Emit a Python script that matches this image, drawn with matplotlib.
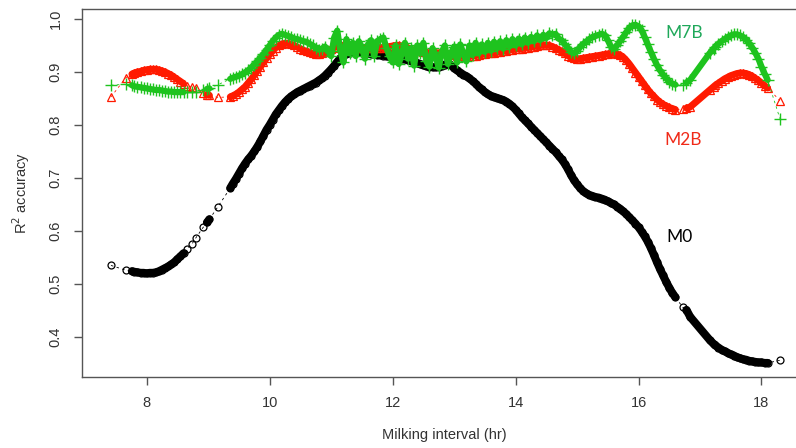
import numpy as np
import matplotlib.pyplot as plt

# milking interval (hr) - same x for the three models
x_hr = [7.42, 7.66, 7.76, 7.80, 7.85, 7.90, 7.95, 8.00, 8.05, 8.10,
        8.15, 8.20, 8.25, 8.30, 8.35, 8.40, 8.45, 8.50, 8.55, 8.60,
        8.66, 8.74, 8.80, 8.92, 8.98, 9.02, 9.16, 9.36,
        9.40, 9.45, 9.50, 9.55, 9.60, 9.65, 9.70, 9.75, 9.80, 9.85,
        9.90, 9.95, 10.00, 10.05, 10.10, 10.15, 10.20, 10.25, 10.30, 10.35,
        10.40, 10.45, 10.50, 10.55, 10.60, 10.65, 10.70, 10.75, 10.80, 10.85,
        10.90, 10.95, 11.00, 11.05, 11.10, 11.15, 11.20, 11.25, 11.30, 11.35,
        11.40, 11.45, 11.50, 11.55, 11.60, 11.65, 11.70, 11.75, 11.80, 11.85,
        11.90, 11.95, 12.00, 12.05, 12.10, 12.15, 12.20, 12.25, 12.30, 12.35,
        12.40, 12.45, 12.50, 12.55, 12.60, 12.65, 12.70, 12.75, 12.80, 12.85,
        12.90, 12.95, 13.00, 13.05, 13.10, 13.15, 13.20, 13.25, 13.30, 13.35,
        13.40, 13.45, 13.50, 13.55, 13.60, 13.65, 13.70, 13.75, 13.80, 13.85,
        13.90, 13.95, 14.00, 14.05, 14.10, 14.15, 14.20, 14.25, 14.30, 14.35,
        14.40, 14.45, 14.50, 14.55, 14.60, 14.65, 14.70, 14.75, 14.80, 14.85,
        14.90, 14.95, 15.00, 15.05, 15.10, 15.15, 15.20, 15.25, 15.30, 15.35,
        15.40, 15.45, 15.50, 15.55, 15.60, 15.65, 15.70, 15.75, 15.80, 15.85,
        15.90, 15.95, 16.00, 16.05, 16.10, 16.15, 16.20, 16.25, 16.30, 16.35,
        16.40, 16.45, 16.50, 16.55, 16.60,
        16.72, 16.78, 16.84, 17.16, 17.22,
        17.25, 17.30, 17.35, 17.40, 17.45, 17.50, 17.55, 17.60, 17.65, 17.70,
        17.75, 17.80, 17.85, 17.90, 17.95, 18.00, 18.05,
        18.10, 18.30]

# M0
r2_m0 = [0.535, 0.526, 0.524, 0.523, 0.522, 0.521, 0.521, 0.520, 0.521, 0.521,
         0.522, 0.524, 0.527, 0.530, 0.533, 0.537, 0.541, 0.547, 0.552, 0.558,
         0.566, 0.576, 0.587, 0.607, 0.616, 0.622, 0.646, 0.681,
         0.689, 0.698, 0.708, 0.718, 0.727, 0.735, 0.742, 0.750, 0.759, 0.769,
         0.780, 0.791, 0.800, 0.810, 0.820, 0.828, 0.836, 0.843, 0.849, 0.854,
         0.858, 0.862, 0.865, 0.868, 0.871, 0.874, 0.877, 0.880, 0.884, 0.888,
         0.893, 0.899, 0.905, 0.912, 0.919, 0.926, 0.931, 0.934, 0.936, 0.937,
         0.937, 0.937, 0.936, 0.936, 0.935, 0.934, 0.933, 0.932, 0.932, 0.931,
         0.930, 0.929, 0.928, 0.927, 0.926, 0.925, 0.924, 0.922, 0.921, 0.919,
         0.917, 0.915, 0.913, 0.911, 0.910, 0.909, 0.909, 0.910, 0.912, 0.914,
         0.915, 0.913, 0.907, 0.903, 0.899, 0.895, 0.892, 0.888, 0.883, 0.878,
         0.872, 0.867, 0.862, 0.858, 0.855, 0.853, 0.851, 0.849, 0.847, 0.844,
         0.840, 0.835, 0.829, 0.822, 0.815, 0.809, 0.803, 0.797, 0.791, 0.785,
         0.779, 0.773, 0.767, 0.761, 0.755, 0.749, 0.742, 0.735, 0.727, 0.717,
         0.706, 0.696, 0.688, 0.681, 0.675, 0.671, 0.668, 0.666, 0.664, 0.663,
         0.661, 0.659, 0.656, 0.653, 0.650, 0.646, 0.642, 0.637, 0.632, 0.626,
         0.620, 0.614, 0.607, 0.599, 0.590, 0.580, 0.568, 0.555, 0.541, 0.528,
         0.516, 0.504, 0.493, 0.483, 0.475,
         0.456, 0.451, 0.438, 0.394, 0.387,
         0.384, 0.380, 0.376, 0.373, 0.370, 0.367, 0.365, 0.362, 0.360, 0.358,
         0.357, 0.355, 0.354, 0.353, 0.352, 0.352, 0.351,
         0.351, 0.356]

# M2B
r2_m2b = [0.853, 0.889, 0.896, 0.898, 0.900, 0.901, 0.903, 0.904, 0.905, 0.905,
          0.905, 0.904, 0.902, 0.900, 0.897, 0.894, 0.890, 0.886, 0.882, 0.878,
          0.874, 0.871, 0.869, 0.860, 0.857, 0.856, 0.852, 0.853,
          0.855, 0.858, 0.862, 0.867, 0.872, 0.879, 0.886, 0.894, 0.902, 0.910,
          0.918, 0.926, 0.933, 0.940, 0.946, 0.950, 0.953, 0.954, 0.954, 0.952,
          0.950, 0.947, 0.944, 0.941, 0.939, 0.937, 0.935, 0.934, 0.934, 0.935,
          0.937, 0.940, 0.943, 0.946, 0.948, 0.950, 0.950, 0.949, 0.948, 0.947,
          0.946, 0.946, 0.946, 0.946, 0.946, 0.946, 0.946, 0.946, 0.946, 0.946,
          0.947, 0.948, 0.949, 0.950, 0.950, 0.949, 0.947, 0.945, 0.943, 0.941,
          0.940, 0.939, 0.938, 0.937, 0.936, 0.936, 0.936, 0.936, 0.936, 0.935,
          0.934, 0.933, 0.932, 0.931, 0.930, 0.930, 0.930, 0.930, 0.930, 0.931,
          0.932, 0.933, 0.934, 0.935, 0.935, 0.936, 0.937, 0.938, 0.939, 0.940,
          0.941, 0.942, 0.943, 0.944, 0.944, 0.945, 0.946, 0.947, 0.948, 0.949,
          0.950, 0.951, 0.951, 0.950, 0.948, 0.945, 0.942, 0.939, 0.935, 0.931,
          0.928, 0.926, 0.925, 0.925, 0.926, 0.927, 0.928, 0.929, 0.930, 0.931,
          0.932, 0.933, 0.934, 0.935, 0.935, 0.934, 0.932, 0.928, 0.922, 0.915,
          0.907, 0.899, 0.891, 0.883, 0.875, 0.867, 0.860, 0.854, 0.848, 0.843,
          0.839, 0.836, 0.833, 0.831, 0.829,
          0.830, 0.832, 0.834, 0.866, 0.872,
          0.875, 0.879, 0.883, 0.887, 0.890, 0.893, 0.895, 0.897, 0.898, 0.898,
          0.897, 0.895, 0.892, 0.888, 0.884, 0.879, 0.874,
          0.870, 0.846]

# M7B
r2_m7b = [0.875, 0.877, 0.875, 0.873, 0.872, 0.871, 0.870, 0.869, 0.868, 0.867,
          0.866, 0.866, 0.865, 0.864, 0.863, 0.863, 0.862, 0.862, 0.862, 0.862,
          0.862, 0.863, 0.863, 0.866, 0.868, 0.869, 0.876, 0.887,
          0.889, 0.891, 0.893, 0.896, 0.899, 0.903, 0.908, 0.914, 0.920, 0.927,
          0.934, 0.942, 0.950, 0.958, 0.965, 0.970, 0.972, 0.970, 0.968, 0.966,
          0.963, 0.962, 0.960, 0.958, 0.957, 0.953, 0.950, 0.946, 0.942, 0.944,
          0.948, 0.940, 0.930, 0.965, 0.978, 0.940, 0.918, 0.962, 0.935, 0.955,
          0.930, 0.958, 0.945, 0.925, 0.952, 0.960, 0.930, 0.958, 0.962, 0.965,
          0.945, 0.930, 0.918, 0.950, 0.915, 0.935, 0.955, 0.925, 0.945, 0.912,
          0.950, 0.935, 0.955, 0.920, 0.910, 0.945, 0.930, 0.908, 0.938, 0.950,
          0.915, 0.935, 0.948, 0.918, 0.952, 0.935, 0.920, 0.950, 0.932, 0.955,
          0.935, 0.952, 0.938, 0.955, 0.940, 0.957, 0.945, 0.958, 0.944, 0.960,
          0.948, 0.962, 0.950, 0.963, 0.952, 0.965, 0.955, 0.966, 0.958, 0.969,
          0.960, 0.970, 0.964, 0.973, 0.970, 0.972, 0.963, 0.960, 0.952, 0.946,
          0.938, 0.935, 0.940, 0.947, 0.953, 0.957, 0.962, 0.966, 0.968, 0.970,
          0.972, 0.970, 0.960, 0.948, 0.943, 0.950, 0.958, 0.966, 0.975, 0.983,
          0.988, 0.989, 0.986, 0.979, 0.966, 0.952, 0.938, 0.925, 0.913, 0.903,
          0.895, 0.888, 0.882, 0.878, 0.876,
          0.876, 0.880, 0.885, 0.936, 0.944,
          0.948, 0.953, 0.958, 0.962, 0.966, 0.969, 0.971, 0.971, 0.969, 0.966,
          0.961, 0.954, 0.946, 0.936, 0.925, 0.910, 0.897,
          0.885, 0.812]

x_ticks = [8, 10, 12, 14, 16, 18]
y_ticks = [0.4, 0.5, 0.6, 0.7, 0.8, 0.9, 1.0]

plt.rcParams['font.family'] = ['Liberation Sans', 'DejaVu Sans']

fig = plt.figure(figsize=(7.96, 4.48), dpi=100)
# the right side of the box is cut off in the original picture
ax = fig.add_axes([0.103, 0.1585, 0.9108, 0.8221])

x = np.array(x_hr)
# points packed close together form a solid band in the original
gap = np.diff(x)
dense = np.zeros(len(x), dtype=bool)
dense[:-1] |= gap < 0.06
dense[1:] |= gap < 0.06

def draw(y, col, mk, ms, band_lw):
    y = np.array(y)
    ax.plot(x, y, color=col, lw=0.6, ls=(0, (3, 4)))
    ax.plot(x, np.where(dense, y, np.nan), color=col, lw=band_lw,
            solid_capstyle='round', solid_joinstyle='round')
    if mk == '+':
        ax.plot(x, y, ls='none', marker=mk, ms=ms, mec=col, mew=1.0)
    else:
        ax.plot(x, y, ls='none', marker=mk, ms=ms, mfc='none', mec=col, mew=0.9)

draw(r2_m0, 'black', 'o', 5, 5.8)
draw(r2_m2b, '#ff1a00', '^', 6, 5.0)
draw(r2_m7b, '#1ec31e', '+', 8, 4.5)

# etiquettes des modeles
ax.text(16.75, 0.974, 'M7B', color='#1fa85a', fontsize=12.5, family='Lato',
        ha='center', va='center')
ax.text(16.72, 0.772, 'M2B', color='#f02a18', fontsize=12.5, family='Lato',
        ha='center', va='center')
ax.text(16.67, 0.589, 'M0', color='black', fontsize=12.5, family='Lato',
        ha='center', va='center')

ax.set_xlim(6.948, 18.74)
ax.set_ylim(0.3245, 1.0194)
ax.set_xticks(x_ticks)
ax.set_yticks(y_ticks)
ax.set_xticklabels([str(t) for t in x_ticks])
ax.set_yticklabels(['%.1f' % t for t in y_ticks], rotation=90, va='center')

for s in ax.spines.values():
    s.set_color('#555555')
    s.set_linewidth(1.0)

ax.tick_params(direction='out', length=6, width=1.0, color='#555555',
               labelcolor='#333333', labelsize=10.5, pad=8)

ax.set_xlabel('Milking interval (hr)', fontsize=10.5, color='#333333', labelpad=13)
ax.set_ylabel('R$^2$ accuracy', fontsize=10.5, color='#333333', labelpad=12)

fig.savefig('out.png', dpi=100)
